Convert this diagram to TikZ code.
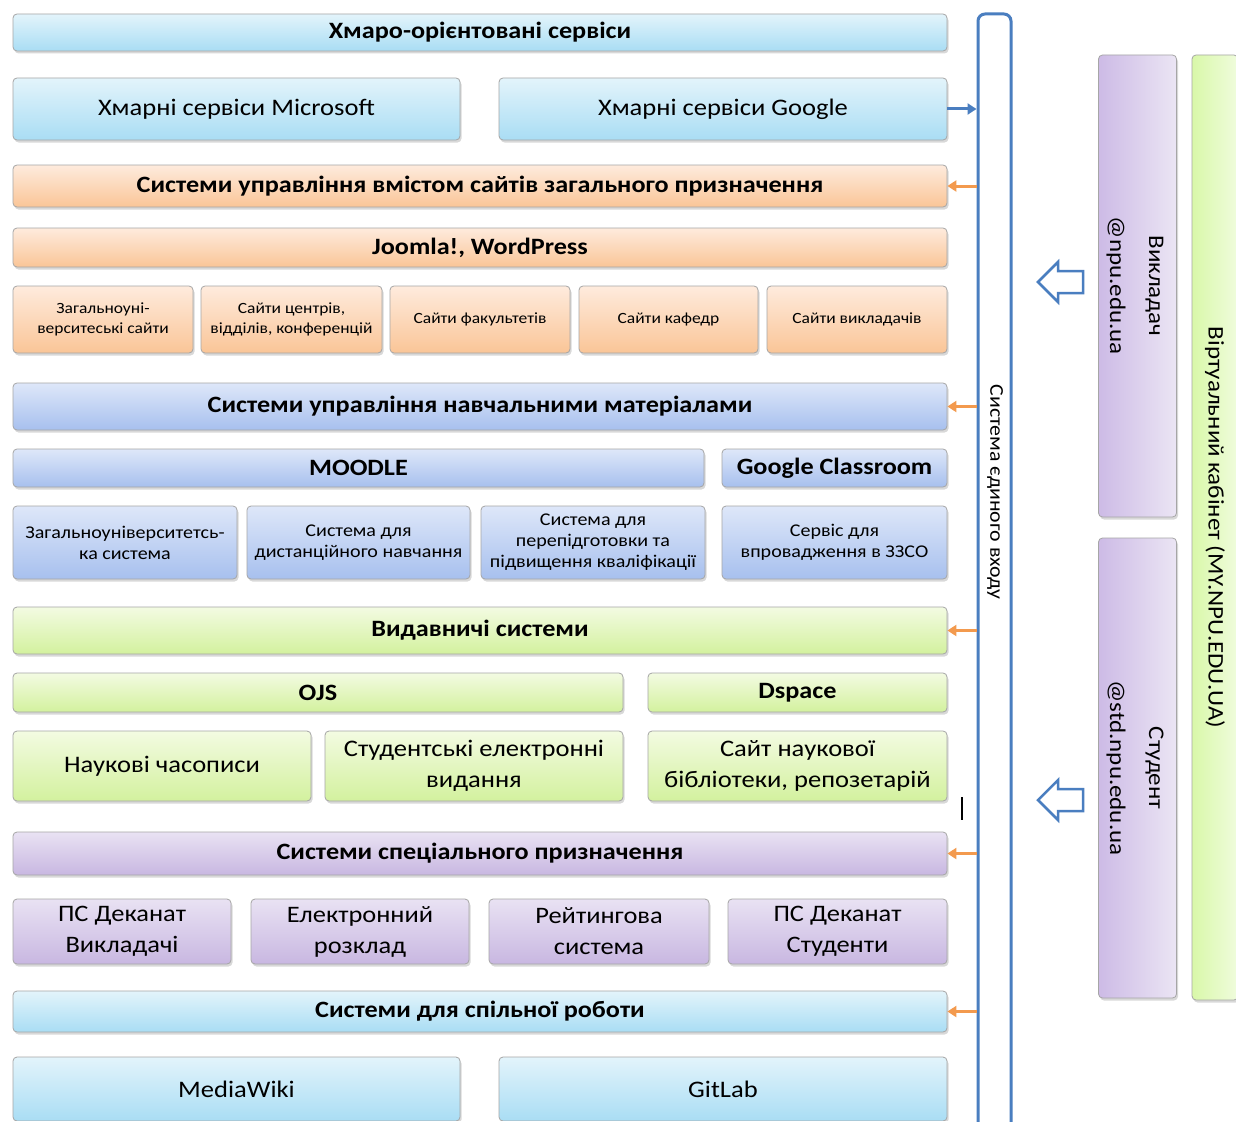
\documentclass[tikz,border=0pt]{standalone}
\usepackage{fontspec}
\setmainfont{Carlito}[FakeStretch=1.12]
\usetikzlibrary{shadows,arrows.meta}
\definecolor{cbT}{HTML}{E3F4FB}\definecolor{cbB}{HTML}{A9DDF4}
\definecolor{orT}{HTML}{FEEBDD}\definecolor{orB}{HTML}{FAC597}
\definecolor{lbT}{HTML}{DEE7F9}\definecolor{lbB}{HTML}{A7C0EE}
\definecolor{grT}{HTML}{F3FBE2}\definecolor{grB}{HTML}{D3F19E}
\definecolor{puT}{HTML}{E9E2F3}\definecolor{puB}{HTML}{C8B7E1}
\definecolor{puL}{HTML}{CDBBE6}\definecolor{puR}{HTML}{EBE5F4}
\definecolor{gnL}{HTML}{D9F8A9}\definecolor{gnR}{HTML}{F0FCDD}
\definecolor{frameblue}{HTML}{4A7EC0}
\definecolor{orangeA}{HTML}{F39A4E}
\tikzset{
  base/.style={draw=gray!70, line width=0.8pt, rounded corners=4pt, inner sep=0pt, align=center,
    drop shadow={shadow xshift=1.5pt, shadow yshift=-2.5pt, opacity=0.3}},
  cloudbox/.style={base, top color=cbT, bottom color=cbB},
  orbox/.style={base, top color=orT, bottom color=orB},
  lbbox/.style={base, top color=lbT, bottom color=lbB},
  grbox/.style={base, top color=grT, bottom color=grB},
  pubox/.style={base, top color=puT, bottom color=puB},
  hdr/.style={font=\fontsize{23.4}{27}\selectfont\bfseries},
  big/.style={font=\fontsize{23.7}{31}\selectfont},
  pbig/.style={font=\fontsize{23.6}{31}\selectfont},
  smallor/.style={font=\fontsize{15.6}{20}\selectfont},
  smalllb/.style={font=\fontsize{17.9}{21}\selectfont},
  ssoarrow/.style={line width=3pt, -{Triangle[length=9pt,width=11pt]}},
  hollow/.style={draw=frameblue, line width=2.5pt, fill=white, line join=miter},
}
\newcommand\mybox[7]{%
  \pgfmathsetmacro\bxc{(#3+#5)/2}%
  \pgfmathsetmacro\byc{(#4+#6)/2}%
  \pgfmathsetmacro\bw{#5-#3}%
  \pgfmathsetmacro\bh{#6-#4}%
  \node[#1, minimum width=\bw pt, minimum height=\bh pt] (#2) at (\bxc,\byc) {#7};}
\begin{document}
\begin{tikzpicture}[x=1pt,y=-1pt]
\clip (0,0) rectangle (1236,1121);
\fill[white] (0,0) rectangle (1236,1121);
% cloud
\mybox{cloudbox,hdr}{hA}{13}{14}{947}{51}{Хмаро-орієнтовані сервіси}
\mybox{cloudbox,big}{ms}{13}{78}{460}{140}{Хмарні сервіси Microsoft}
\mybox{cloudbox,big}{google}{499}{78}{947}{140}{Хмарні сервіси Google}
% CMS
\mybox{orbox,hdr}{hB}{13}{165}{947}{207}{Системи управління вмістом сайтів загального призначення}
\mybox{orbox,hdr}{joomla}{13}{228}{947}{267}{Joomla!, WordPress}
\mybox{orbox,smallor}{s1}{13}{286}{193}{353}{Загальноуні-\\верситеські сайти}
\mybox{orbox,smallor}{s2}{201}{286}{382}{353}{Сайти центрів,\\відділів, конференцій}
\mybox{orbox,smallor}{s3}{390}{286}{570}{353}{Сайти факультетів}
\mybox{orbox,smallor}{s4}{579}{286}{758}{353}{Сайти кафедр}
\mybox{orbox,smallor}{s5}{767}{286}{947}{353}{Сайти викладачів}
% LMS
\mybox{lbbox,hdr}{hC}{13}{383}{947}{430}{Системи управління навчальними матеріалами}
\mybox{lbbox,hdr}{moodle}{13}{449}{704}{487}{MOODLE}
\mybox{lbbox,hdr}{gcl}{722}{449}{947}{487}{Google Classroom}
\mybox{lbbox,smalllb}{m1}{13}{506}{237}{579}{Загальноуніверситетсь-\\ка система}
\mybox{lbbox,smalllb}{m2}{247}{506}{470}{579}{Система для\\дистанційного навчання}
\mybox{lbbox,smalllb}{m3}{481}{506}{705}{579}{Система для\\перепідготовки та\\підвищення кваліфікації}
\mybox{lbbox,smalllb}{m4}{722}{506}{947}{579}{Сервіс для\\впровадження в ЗЗСО}
% publishing
\mybox{grbox,hdr}{hD}{13}{607}{947}{654}{Видавничі системи}
\mybox{grbox,hdr}{ojs}{13}{673}{623}{712}{OJS}
\mybox{grbox,hdr}{dspace}{648}{673}{947}{712}{Dspace}
\mybox{grbox,big}{p1}{13}{731}{311}{801}{Наукові часописи}
\mybox{grbox,big}{p2}{325}{731}{623}{801}{Студентські електронні\\видання}
\mybox{grbox,big}{p3}{648}{731}{947}{801}{Сайт наукової\\бібліотеки, репозетарій}
% special
\mybox{pubox,hdr}{hE}{13}{832}{947}{875}{Системи спеціального призначення}
\mybox{pubox,pbig}{d1}{13}{899}{231}{964}{ПС Деканат\\Викладачі}
\mybox{pubox,pbig}{d2}{251}{899}{469}{964}{Електронний\\розклад}
\mybox{pubox,pbig}{d3}{489}{899}{709}{964}{Рейтингова\\система}
\mybox{pubox,pbig}{d4}{728}{899}{947}{964}{ПС Деканат\\Студенти}
% collaboration
\mybox{cloudbox,hdr}{hF}{13}{991}{947}{1032}{Системи для спільної роботи}
\mybox{cloudbox,big}{wiki}{13}{1057}{460}{1121}{MediaWiki}
\mybox{cloudbox,big}{gitlab}{499}{1057}{947}{1121}{GitLab}
\fill[white] (0,1121) rectangle (1236,1140);
% single sign-on frame
\node[draw=frameblue, line width=3pt, rounded corners=7pt, fill=white, minimum width=33pt,
      minimum height=1130pt, inner sep=0pt] (sso) at (994.5,579) {};
\node[rotate=-90, font=\fontsize{19.5}{23}\selectfont] (ssotext) at (995,492) {Система єдиного входу};
% connectors
\draw[ssoarrow, frameblue] (google.east) -- (google.east -| sso.west);
\foreach \h in {hB,hC,hD,hE,hF}
  \draw[ssoarrow, orangeA] (sso.west |- \h.east) -- (\h.east);
% right side
\node[base, left color=puL, right color=puR, minimum width=75pt, minimum height=462pt] (teacher) at (1137.5,286)
  {\rotatebox{-90}{\fontsize{22.3}{39}\selectfont\begin{tabular}{@{}c@{}}Викладач\\@npu.edu.ua\end{tabular}}};
\node[base, left color=puL, right color=puR, minimum width=75pt, minimum height=460pt] (student) at (1137.5,768)
  {\rotatebox{-90}{\fontsize{22.3}{39}\selectfont\begin{tabular}{@{}c@{}}Студент\\@std.npu.edu.ua\end{tabular}}};
\node[base, left color=gnL, right color=gnR, minimum width=46pt, minimum height=945pt] (cabinet) at (1215,527.5)
  {\rotatebox{-90}{\fontsize{22.3}{26}\selectfont Віртуальний кабінет (MY.NPU.EDU.UA)}};
% hollow arrows
\draw[hollow] (1038,282) -- (1058,262) -- (1058,271) -- (1083,271) -- (1083,293) -- (1058,293) -- (1058,302) -- cycle;
\draw[hollow] (1038,800) -- (1058,780) -- (1058,789) -- (1083,789) -- (1083,811) -- (1058,811) -- (1058,820) -- cycle;
% stray cursor mark
\draw[black, line width=1.5pt] (962,797) -- (962,820);
\end{tikzpicture}
\end{document}
